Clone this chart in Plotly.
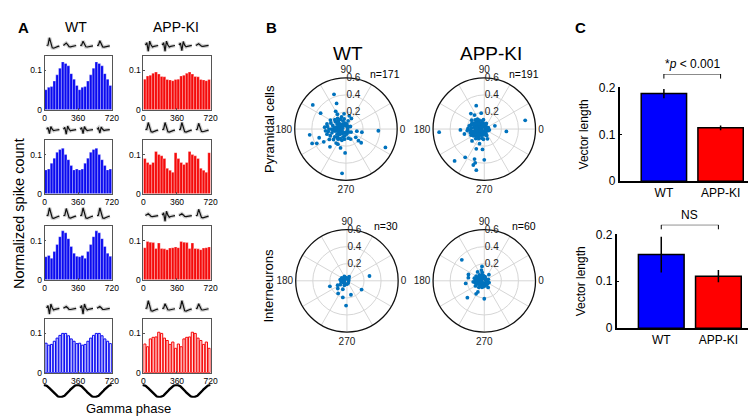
import numpy as np
import plotly.graph_objects as go

W, H = 756, 419

# ---------------- Panel A data (12 bins of 30 deg, shown over two cycles) ----------------
PHASE_EDGES = list(range(0, 721, 30))
HIST_XTICKS = [0, 360, 720]
HIST_YTICKS = [0, 0.1]

WT_ROW1 = [0.051, 0.057, 0.059, 0.073, 0.089, 0.106, 0.122, 0.118, 0.112, 0.092, 0.078, 0.062]
WT_ROW2 = [0.061, 0.063, 0.078, 0.091, 0.106, 0.113, 0.116, 0.100, 0.087, 0.072, 0.061, 0.063]
WT_ROW3 = [0.059, 0.062, 0.055, 0.072, 0.090, 0.110, 0.125, 0.120, 0.105, 0.085, 0.068, 0.060]
WT_ROW4 = [0.075, 0.070, 0.072, 0.080, 0.088, 0.095, 0.100, 0.100, 0.094, 0.086, 0.080, 0.074]
KI_ROW1 = [0.078, 0.086, 0.088, 0.093, 0.096, 0.091, 0.085, 0.084, 0.077, 0.076, 0.074, 0.077]
KI_ROW2 = [0.090, 0.080, 0.075, 0.080, 0.108, 0.100, 0.097, 0.090, 0.065, 0.060, 0.055, 0.105]
KI_ROW3 = [0.082, 0.098, 0.096, 0.095, 0.080, 0.094, 0.080, 0.079, 0.077, 0.081, 0.082, 0.084]
KI_ROW4 = [0.073, 0.066, 0.086, 0.090, 0.091, 0.103, 0.100, 0.088, 0.082, 0.072, 0.078, 0.062]

# spike waveform templates (normalised samples)
WAVE_UP = [0.0, 0.05, 1.0, 0.35, -0.30, -0.35, -0.25, -0.18, -0.12, -0.08]
WAVE_BI = [0.05, 0.35, -0.75, 0.55, 0.05, -0.20, -0.12, -0.06, -0.03, 0.0]
WAVE_SMALL = [0.0, 0.12, 0.30, 0.10, -0.15, -0.18, -0.12, -0.06, -0.03, 0.0]
WAVES = {"up": WAVE_UP, "bi": WAVE_BI, "small": WAVE_SMALL}

WT_WAVES = [
    [("up", 1.0), ("small", 1.0), ("up", 0.55), ("up", 0.6)],
    [("bi", 0.7), ("bi", 0.8), ("bi", 0.7), ("bi", 0.6)],
    [("up", 1.0), ("up", 0.9), ("up", 1.0), ("up", 1.0)],
    [("bi", 1.0), ("small", 0.8), ("bi", 1.0), ("small", 0.8)],
]
KI_WAVES = [
    [("bi", 1.0), ("bi", 1.0), ("bi", 0.9), ("small", 0.7)],
    [("up", 0.9), ("up", 0.9), ("up", 0.9), ("up", 0.8)],
    [("small", 0.8), ("bi", 1.0), ("small", 0.8), ("up", 0.8)],
    [("up", 1.0), ("up", 0.6), ("up", 1.0), ("up", 0.6)],
]

GAMMA_PHASE = np.arange(0, 721, 5)

# ---------------- Panel B data (phase in deg, vector length) ----------------
WT_PYR_PHASE = [144, 109, 110, 148, 120, 97, 63, 76, 357, 349, 349, 320, 295, 317, 318, 335, 268, 265,
                189, 203, 206, 198, 210, 228, 242, 254,
                180, 170, 190, 160, 200, 175, 185, 165, 195, 150, 210, 140, 220, 130, 230, 120, 240, 90,
                270, 60, 300, 0, 180, 172, 188, 158, 203, 145, 215, 135, 225, 110, 250, 100, 260, 80, 280,
                45, 315, 178, 160, 200, 150, 210, 170, 190, 180, 155, 205, 165, 195, 140, 220, 128, 232,
                120, 240, 110, 250, 185, 175, 195, 165, 150, 212, 100, 262, 75, 285, 30, 330, 120, 235,
                180, 173, 187, 145, 215]
WT_PYR_LEN = [0.48, 0.43, 0.32, 0.35, 0.24, 0.18, 0.14, 0.16, 0.38, 0.13, 0.19, 0.15, 0.13, 0.20, 0.24, 0.51,
              0.28, 0.52, 0.43, 0.43, 0.38, 0.33, 0.30, 0.28, 0.20, 0.23,
              0.09, 0.10, 0.10, 0.08, 0.08, 0.14, 0.15, 0.16, 0.17, 0.12, 0.12, 0.10, 0.10, 0.07, 0.07,
              0.05, 0.05, 0.04, 0.04, 0.03, 0.03, 0.02, 0.20, 0.22, 0.21, 0.19, 0.20, 0.15, 0.16, 0.13,
              0.14, 0.10, 0.10, 0.07, 0.08, 0.06, 0.06, 0.04, 0.05, 0.05, 0.04, 0.05, 0.06, 0.06, 0.12,
              0.13, 0.17, 0.10, 0.10, 0.06, 0.07, 0.17, 0.19, 0.16, 0.15, 0.13, 0.13, 0.15, 0.14, 0.24,
              0.25, 0.23, 0.23, 0.21, 0.23, 0.12, 0.12, 0.10, 0.11, 0.06, 0.07, 0.20, 0.20, 0.12, 0.08,
              0.06, 0.08, 0.08]

KI_PYR_PHASE = [12, 354, 17, 184, 109, 101, 131, 125, 182, 194, 224, 212, 248, 265, 236, 227, 252, 255,
                253, 259, 270, 252, 288, 290,
                180, 170, 190, 160, 200, 150, 210, 140, 220, 120, 240, 90, 270, 45, 315, 0, 180, 170, 190,
                160, 200, 175, 185, 165, 195, 150, 210, 140, 220, 130, 230, 115, 245, 100, 260, 80, 280,
                60, 300, 30, 330, 178, 185, 155, 205, 135, 228, 120, 240, 105, 255, 95, 265, 180, 150,
                210, 120, 240, 170, 195, 145, 215, 160, 200, 175, 188, 135, 225, 110, 250, 70, 290, 20,
                340, 10, 350, 125, 235, 168, 192, 145]
KI_PYR_LEN = [0.49, 0.26, 0.13, 0.53, 0.29, 0.19, 0.24, 0.20, 0.28, 0.24, 0.20, 0.15, 0.25, 0.24, 0.40,
              0.51, 0.37, 0.41, 0.44, 0.49, 0.36, 0.18, 0.12, 0.07,
              0.06, 0.07, 0.07, 0.05, 0.05, 0.08, 0.08, 0.06, 0.06, 0.04, 0.04, 0.03, 0.03, 0.02, 0.02,
              0.03, 0.10, 0.12, 0.12, 0.11, 0.11, 0.15, 0.16, 0.17, 0.17, 0.14, 0.14, 0.12, 0.12, 0.10,
              0.10, 0.08, 0.08, 0.07, 0.07, 0.05, 0.05, 0.04, 0.04, 0.03, 0.03, 0.19, 0.20, 0.16, 0.17,
              0.15, 0.15, 0.12, 0.13, 0.10, 0.11, 0.11, 0.12, 0.03, 0.03, 0.03, 0.07, 0.07, 0.04, 0.04,
              0.10, 0.10, 0.13, 0.14, 0.09, 0.09, 0.09, 0.09, 0.05, 0.05, 0.07, 0.08, 0.05, 0.05, 0.04,
              0.06, 0.14, 0.12, 0.18, 0.14, 0.18]

WT_INT_PHASE = [12, 329, 286, 268, 256, 235, 198, 205, 220, 244, 62, 45,
                180, 160, 200, 140, 220, 120, 240, 90, 270, 0, 170, 190, 150, 210, 110, 60, 300, 180]
WT_INT_LEN = [0.27, 0.20, 0.17, 0.29, 0.20, 0.18, 0.21, 0.12, 0.14, 0.11, 0.055, 0.03,
              0.03, 0.05, 0.05, 0.04, 0.04, 0.06, 0.06, 0.03, 0.04, 0.02, 0.08, 0.07, 0.07, 0.09, 0.04,
              0.02, 0.03, 0.06]

KI_INT_PHASE = [137, 158, 169, 188, 225, 270, 238, 240, 99, 105, 127, 104, 53, 315, 300,
                180, 170, 190, 160, 200, 150, 210, 140, 220, 120, 240, 90, 270, 45, 315, 0, 180, 170, 190,
                160, 200, 150, 210, 130, 230, 110, 250, 100, 260, 80, 280, 60, 300, 30, 330, 175, 195,
                145, 215, 165, 185, 125, 235, 20, 340]
KI_INT_LEN = [0.36, 0.20, 0.19, 0.22, 0.28, 0.21, 0.18, 0.15, 0.17, 0.13, 0.13, 0.10, 0.09, 0.05, 0.09,
              0.06, 0.07, 0.07, 0.05, 0.05, 0.08, 0.08, 0.06, 0.06, 0.04, 0.04, 0.03, 0.03, 0.02, 0.03,
              0.02, 0.10, 0.10, 0.11, 0.09, 0.10, 0.11, 0.12, 0.09, 0.10, 0.07, 0.08, 0.06, 0.07, 0.05,
              0.06, 0.03, 0.05, 0.03, 0.04, 0.03, 0.04, 0.04, 0.03, 0.12, 0.13, 0.06, 0.07, 0.05, 0.06]

POLAR_N = ["n=171", "n=191", "n=30", "n=60"]

# ---------------- Panel C data ----------------
GROUPS = ["WT", "APP-KI"]
PYR_VL = [0.187, 0.114]
PYR_SEM = [0.010, 0.005]
INT_VL = [0.157, 0.111]
INT_SEM = [0.038, 0.013]
SIG_LABELS = ["*<i>p</i> < 0.001", "NS"]

# ---------------- layout helpers ----------------
def px(x):
    return x / W


def py(y):
    return 1 - y / H


BLUE = "#0a0af0"
RED = "#f50a0a"
FONT = "Liberation Sans, Arial, sans-serif"

fig = go.Figure()
layout = dict(width=W, height=H, margin=dict(l=0, r=0, t=0, b=0), paper_bgcolor="white",
              plot_bgcolor="white", showlegend=False, font=dict(family=FONT, color="black"),
              barmode="overlay")


def axkey(i, a):
    return f"{a}axis" if i == 1 else f"{a}axis{i}"


def axref(i, a):
    return a if i == 1 else f"{a}{i}"


HIST_COLS = [(35, 103), (135, 203)]
HIST_ROWS = [(42, 98), (129, 185), (218, 274), (314, 370)]
HIST_DATA = [[WT_ROW1, KI_ROW1], [WT_ROW2, KI_ROW2], [WT_ROW3, KI_ROW3], [WT_ROW4, KI_ROW4]]
WAVE_DATA = [[WT_WAVES[r], KI_WAVES[r]] for r in range(4)]

centers = [(PHASE_EDGES[i] + PHASE_EDGES[i + 1]) / 2 for i in range(len(PHASE_EDGES) - 1)]

for r, (y0, y1) in enumerate(HIST_ROWS):
    for c, (x0, x1) in enumerate(HIST_COLS):
        i = r * 2 + c + 1
        vals = np.concatenate([HIST_DATA[r][c], HIST_DATA[r][c]])
        col = BLUE if c == 0 else RED
        if r < 3:
            marker = dict(color=col, line=dict(color="rgba(255,255,255,0.5)", width=0.6))
            width = 30
        else:
            light = "rgba(212,212,255,1)" if c == 0 else "rgba(255,212,212,1)"
            marker = dict(color=light, line=dict(color=col, width=1))
            width = 24
        fig.add_trace(go.Bar(x=centers, y=vals, width=width, marker=marker,
                             xaxis=axref(i, "x"), yaxis=axref(i, "y"), hoverinfo="skip"))
        common = dict(showline=True, mirror=True, linecolor="#555", linewidth=0.8, ticks="inside",
                      ticklen=2, tickcolor="#555", showgrid=False, zeroline=False,
                      tickfont=dict(size=8.5))
        layout[axkey(i, "x")] = dict(domain=[px(x0), px(x1)], range=[0, 720], tickvals=HIST_XTICKS,
                                     anchor=axref(i, "y"), **common)
        layout[axkey(i, "y")] = dict(domain=[py(y1), py(y0)], range=[0, 0.138], tickvals=HIST_YTICKS,
                                     ticktext=["0", "0.1"], anchor=axref(i, "x"), **common)

        # waveforms above
        j = 8 + i
        wx, wy = [], []
        for k, (name, gain) in enumerate(WAVE_DATA[r][c]):
            tpl = WAVES[name]
            n = len(tpl)
            wx += [k + 0.12 + 0.76 * t / (n - 1) for t in range(n)] + [None]
            wy += [gain * v for v in tpl] + [None]
        for lw, lc in [(3.6, "rgba(160,160,160,0.5)"), (1.2, "#111")]:
            fig.add_trace(go.Scatter(x=wx, y=wy, mode="lines", line=dict(color=lc, width=lw),
                                     xaxis=axref(j, "x"), yaxis=axref(j, "y"), hoverinfo="skip"))
        layout[axkey(j, "x")] = dict(domain=[px(x0), px(x1)], range=[0, 4], visible=False,
                                     anchor=axref(j, "y"))
        layout[axkey(j, "y")] = dict(domain=[py(y0 - 4), py(y0 - 19)], range=[-0.8, 1.05],
                                     visible=False, anchor=axref(j, "x"))

# gamma oscillation schematic under bottom row
for c, (x0, x1) in enumerate(HIST_COLS):
    j = 17 + c
    fig.add_trace(go.Scatter(x=GAMMA_PHASE, y=np.cos(np.deg2rad(GAMMA_PHASE)), mode="lines",
                             line=dict(color="black", width=2.4),
                             xaxis=axref(j, "x"), yaxis=axref(j, "y"), hoverinfo="skip"))
    layout[axkey(j, "x")] = dict(domain=[px(x0 - 1), px(x1)], range=[0, 720], visible=False,
                                 anchor=axref(j, "y"))
    layout[axkey(j, "y")] = dict(domain=[py(396), py(382)], range=[-1.1, 1.1], visible=False,
                                 anchor=axref(j, "x"))

# ---------------- Panel B polar plots ----------------
POLAR_POS = [(340, 118), (480, 118), (341, 275), (480, 275)]
POLAR_R = 53
POLAR_DATA = [(WT_PYR_PHASE, WT_PYR_LEN), (KI_PYR_PHASE, KI_PYR_LEN),
              (WT_INT_PHASE, WT_INT_LEN), (KI_INT_PHASE, KI_INT_LEN)]
ang_text = ["0", "", "", "90", "", "", "180", "", "", "270", "", ""]
for k, ((cx, cy), (ph, ln)) in enumerate(zip(POLAR_POS, POLAR_DATA)):
    name = "polar" if k == 0 else f"polar{k + 1}"
    fig.add_trace(go.Scatterpolar(theta=ph, r=ln, mode="markers",
                                  marker=dict(color="#0072BD", size=3.8),
                                  subplot=name, hoverinfo="skip"))
    layout[name] = dict(
        domain=dict(x=[px(cx - POLAR_R), px(cx + POLAR_R)], y=[py(cy + POLAR_R), py(cy - POLAR_R)]),
        bgcolor="white",
        radialaxis=dict(range=[0, 0.6], tickvals=[0.2, 0.4, 0.6], ticktext=["0.2", "0.4", "0.6"],
                        showline=False, ticks="", gridcolor="#d6d6d6", gridwidth=0.8, angle=90,
                        tickangle=90, side="clockwise", tickfont=dict(size=10, color="#222")),
        angularaxis=dict(direction="counterclockwise", rotation=0, tickvals=list(range(0, 360, 30)),
                         ticktext=ang_text, ticks="", showline=True, linecolor="#111", linewidth=1.3,
                         gridcolor="#d6d6d6", gridwidth=0.8, tickfont=dict(size=10, color="#222")),
    )

# ---------------- Panel C bars ----------------
C_AXES = [((617, 749), (75, 172), (61, 66), PYR_VL, PYR_SEM),
          ((614, 747), (227, 324), (217, 222), INT_VL, INT_SEM)]
for k, ((x0, x1), (ytop, ybot), (bt, bb), vl, sem) in enumerate(C_AXES):
    i = 19 + k
    b = 21 + k
    fig.add_trace(go.Bar(x=[0, 1], y=vl, width=0.8,
                         marker=dict(color=["#0000ff", "#ff0000"], line=dict(color="black", width=1.5)),
                         error_y=dict(type="data", array=sem, color="black", thickness=1.5, width=0),
                         xaxis=axref(i, "x"), yaxis=axref(i, "y"), hoverinfo="skip"))
    layout[axkey(i, "x")] = dict(domain=[px(x0), px(x1)], range=[-0.78, 1.52], tickvals=[0, 1],
                                 ticktext=GROUPS, showline=True, linecolor="black", linewidth=1.5,
                                 ticks="", showgrid=False, zeroline=False, tickfont=dict(size=12),
                                 anchor=axref(i, "y"))
    layout[axkey(i, "y")] = dict(domain=[py(ybot), py(ytop)], range=[0, 0.2], tickvals=[0, 0.1, 0.2],
                                 ticktext=["0", "0.1", "0.2"], showline=True, linecolor="black",
                                 linewidth=1.5, ticks="inside", ticklen=3, tickcolor="black",
                                 showgrid=False, zeroline=False, tickfont=dict(size=12),
                                 title=dict(text="Vector length", font=dict(size=12), standoff=8),
                                 anchor=axref(i, "x"))
    # significance bracket
    fig.add_trace(go.Scatter(x=[0, 0, 1, 1], y=[0, 1, 1, 0], mode="lines",
                             line=dict(color="black", width=1),
                             xaxis=axref(b, "x"), yaxis=axref(b, "y"), hoverinfo="skip"))
    layout[axkey(b, "x")] = dict(domain=[px(x0), px(x1)], range=[-0.78, 1.52], visible=False,
                                 anchor=axref(b, "y"))
    layout[axkey(b, "y")] = dict(domain=[py(bb), py(bt)], range=[0, 1], visible=False,
                                 anchor=axref(b, "x"))

# ---------------- annotations ----------------
ann = []


def text(x, y, s, size, bold=False, angle=0, xanchor="center", yanchor="middle"):
    ann.append(dict(x=px(x), y=py(y), xref="paper", yref="paper", text=f"<b>{s}</b>" if bold else s,
                    showarrow=False, font=dict(size=size, family=FONT, color="black"),
                    textangle=angle, xanchor=xanchor, yanchor=yanchor))


text(14, 13, "A", 15, bold=True)
text(67, 12, "WT", 14)
text(168, 12, "APP-KI", 14)
text(9, 205, "Normalized spike count", 14.5, angle=-90)
text(120, 407, "Gamma phase", 13)
text(265, 13, "B", 15, bold=True)
text(342, 40, "WT", 19)
text(487, 40, "APP-KI", 19)
text(262, 118, "Pyramidal cells", 13, angle=-90)
text(262, 280, "Interneurons", 13, angle=-90)
for (cx, cy), s in zip(POLAR_POS, POLAR_N):
    text(cx + 40, cy - 57, s, 10.5)
text(577, 13, "C", 15, bold=True)

for k in range(2):
    b = 21 + k
    ann.append(dict(x=0.5, y=1, xref=axref(b, "x"), yref=axref(b, "y"), text=SIG_LABELS[k],
                    showarrow=False, yanchor="bottom", yshift=1, font=dict(size=12, family=FONT)))

layout["annotations"] = ann
fig.update_layout(**layout)
fig.write_html("out.html")
